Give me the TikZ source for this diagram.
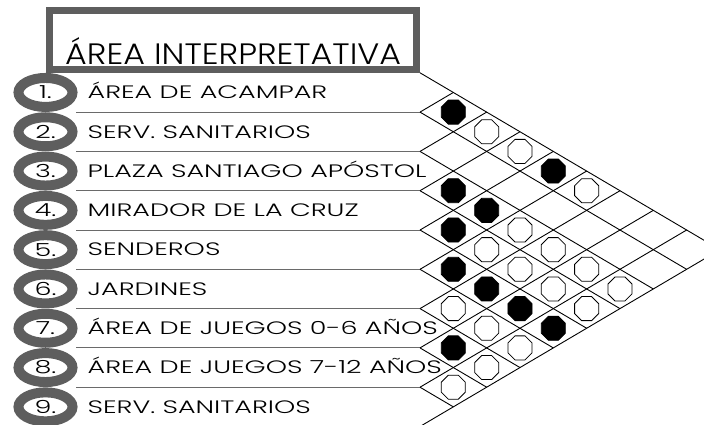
\documentclass[tikz,border=0pt]{standalone}
\usepackage{fontspec}
\setmainfont{Poppins}[UprightFont=* Light]
\newfontfamily\titlefont{Poppins}[UprightFont=* Light, FakeStretch=1.13]
\newfontfamily\rowfont{Poppins}[UprightFont=* Light, FakeStretch=1.5]
\usetikzlibrary{positioning, shapes.geometric}

\definecolor{framegray}{HTML}{5E5E5E}
\definecolor{rulegray}{HTML}{6A6A6A}

\begin{document}
\begin{tikzpicture}[
  x=1pt, y=-1pt,
  titlebox/.style={draw=framegray, line width=6.5pt, minimum width=367pt, minimum height=58.6pt, inner sep=0pt},
  titletext/.style={anchor=base west, inner sep=0pt, font=\titlefont\fontsize{29.5}{31}\selectfont},
  badge/.style={draw=framegray, line width=10pt, ellipse, minimum width=54pt, minimum height=29pt, inner sep=0pt, font=\rowfont\fontsize{18}{20}\selectfont},
  rowtext/.style={anchor=west, inner sep=0pt, text height=12.6pt, text depth=0pt, font=\rowfont\fontsize{18}{20}\selectfont},
  rule/.style={draw=rulegray, line width=1pt},
  grid/.style={draw=black, line width=0.9pt},
  markfull/.style={regular polygon, regular polygon sides=8, draw, line width=0.8pt, fill=black, minimum size=26pt, inner sep=0pt},
  markopen/.style={markfull, fill=white}
  ]
\useasboundingbox (0,0) rectangle (704,424);
\clip (0,0) rectangle (704,424);

% Title
\node[titlebox] (frame) at (233.1,40) {};
\node[titletext] (title) at (65,64) {ÁREA INTERPRETATIVA};

% Grid corners
\foreach \k in {0,...,9}
  \coordinate (g\k) at (420,{72.8+\k*39.3});

% Rows
\node[badge] (b1) at (45.5,92.45) {1.};
\node[badge] (b2) at (45.5,131.75) {2.};
\node[badge] (b3) at (45.5,171.05) {3.};
\node[badge] (b4) at (45.5,210.35) {4.};
\node[badge] (b5) at (45.5,249.65) {5.};
\node[badge] (b6) at (45.5,288.95) {6.};
\node[badge] (b7) at (45.5,328.25) {7.};
\node[badge] (b8) at (45.5,367.55) {8.};
\node[badge] (b9) at (45.5,406.85) {9.};

\node[rowtext, right=10pt of b1] (t1) {ÁREA DE ACAMPAR};
\node[rowtext, right=10pt of b2] (t2) {SERV. SANITARIOS};
\node[rowtext, right=10pt of b3] (t3) {PLAZA SANTIAGO APÓSTOL};
\node[rowtext, right=10pt of b4] (t4) {MIRADOR DE LA CRUZ};
\node[rowtext, right=10pt of b5] (t5) {SENDEROS};
\node[rowtext, right=10pt of b6] (t6) {JARDINES};
\node[rowtext, right=10pt of b7] (t7) {ÁREA DE JUEGOS 0-6 AÑOS};
\node[rowtext, right=10pt of b8] (t8) {ÁREA DE JUEGOS 7-12 AÑOS};
\node[rowtext, right=10pt of b9] (t9) {SERV. SANITARIOS};

% Separators and diamond grid
\foreach \k in {1,...,8}
  \draw[rule] (g\k) -- ++(-344,0);
\foreach \k in {0,...,9} {
  \draw[grid] (g\k) -- ++({(9-\k)*33.33},{(9-\k)*19.65});
  \draw[grid] (g\k) -- ++({\k*33.33},{-\k*19.65});
}

% Marks
\foreach \i/\j/\s in {1/2/markfull, 1/3/markopen, 1/4/markopen, 1/5/markfull, 1/6/markopen,
    3/4/markfull, 3/5/markfull, 3/6/markopen, 3/7/markopen, 3/8/markopen, 3/9/markopen,
    4/5/markfull, 4/6/markopen, 4/7/markopen, 4/8/markopen, 4/9/markopen,
    5/6/markfull, 5/7/markfull, 5/8/markfull, 5/9/markfull,
    6/7/markopen, 6/8/markopen, 6/9/markopen,
    7/8/markfull, 7/9/markopen, 8/9/markopen}
  \node[\s] (m\i\j) at ({420+(\j-\i)*33.33},{72.8+(\i+\j-1)*19.65}) {};

\end{tikzpicture}
\end{document}
